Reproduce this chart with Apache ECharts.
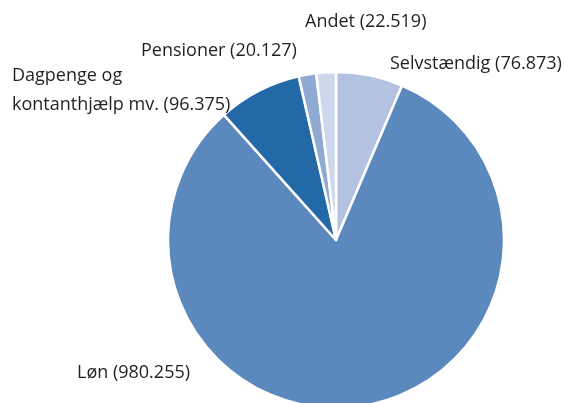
<!DOCTYPE html>
<html lang="da">
  <head>
    <meta charset="UTF-8" />
    <title>Indkomst fordelt på type</title>
    <script src="https://cdn.jsdelivr.net/npm/echarts@6/dist/echarts.min.js"></script>
    <style>
      html, body { margin: 0; padding: 0; background: #fff; }
      #chart { width: 564px; height: 403px; }
    </style>
  </head>
  <body>
    <div id="chart"></div>
  </body>
</html>
<script>
  // data (clockwise from 12 o'clock)
  const names = ["Selvstændig", "Løn", "Dagpenge og\nkontanthjælp mv.", "Pensioner", "Andet"];
  const values = [76.873, 980.255, 96.375, 20.127, 22.519];
  const colors = ["#b2c2e0", "#5b88bd", "#2369a8", "#8eaad2", "#cdd8ed"];
  // label top-left anchors
  const labelPos = [
    [390, 49],
    [77, 358],
    [12, 61],
    [141, 36],
    [305, 7],
  ];

  const chart = echarts.init(document.getElementById("chart"));
  const option = {
    animation: false,
    series: [
      {
        type: "pie",
        center: [336, 240],
        radius: [0, 168],
        startAngle: 90,
        clockwise: true,
        itemStyle: { borderColor: "#fff", borderWidth: 2.5 },
        label: {
          show: true,
          fontFamily: "Open Sans, Noto Sans, sans-serif",
          fontSize: 18,
          lineHeight: 29,
          color: "#231f20",
          overflow: "none",
          width: 260,
          formatter: (p) => p.name + " (" + p.value.toFixed(3) + ")",
        },
        labelLine: { show: false },
        labelLayout: (p) => ({
          x: labelPos[p.dataIndex][0],
          y: labelPos[p.dataIndex][1],
          align: "left",
          verticalAlign: "top",
        }),
        emphasis: { disabled: true },
        data: names.map((n, i) => ({
          name: n,
          value: values[i],
          itemStyle: { color: colors[i] },
        })),
      },
    ],
  };
  chart.setOption(option);
</script>
